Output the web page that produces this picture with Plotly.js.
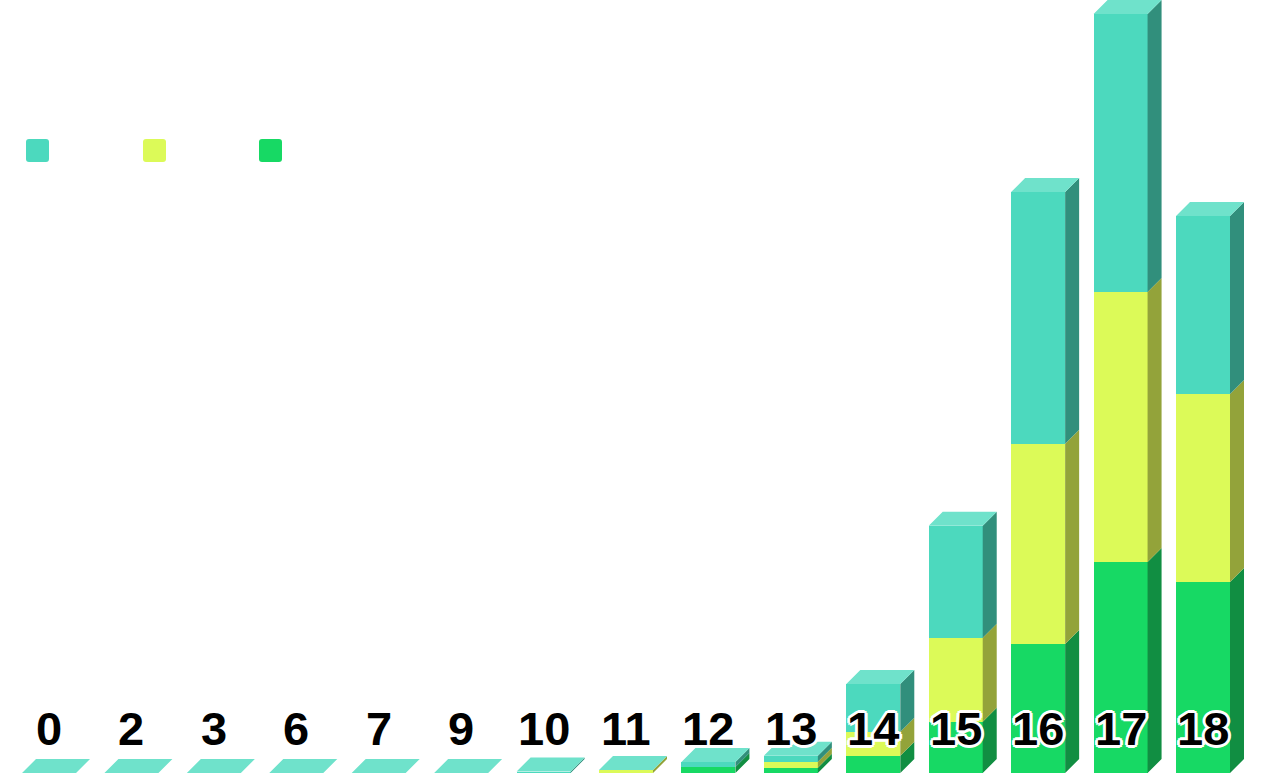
<!DOCTYPE html>
<html>
<head>
<meta charset="utf-8">
<script src="https://cdn.plot.ly/plotly-3.0.1.min.js"></script>
<style>html,body{margin:0;padding:0;background:#fff;}#chart{width:1264px;height:782px;}</style>
</head>
<body>
<div id="chart"></div>
<script>
// ---- data ----
const categories = ['0','2','3','6','7','9','10','11','12','13','14','15','16','17','18'];
const greenValues  = [0,0,0,0,0,0,0,0,6,5.3,17.3,51.3,129,211,191];
const yellowValues = [0,0,0,0,0,0,0,3,0,6,24,84,200.3,270,188];
const tealValues   = [0,0,0,0,0,0,1.5,0,5,6,47.7,112,251.7,278,178];

// ---- styling ----
const W = 1264, H = 782;
const margin = {l:0, r:0, t:0, b:9};
const plotW = W - margin.l - margin.r, plotH = H - margin.t - margin.b;
const xRange = [-0.5944, 14.740];
const yRange = [0, 773];
const pxPerX = plotW / (xRange[1] - xRange[0]);
const pxPerY = plotH / (yRange[1] - yRange[0]);
const depthPx = 14;
const dx = depthPx / pxPerX, dy = depthPx / pxPerY;
const barW = 54 / pxPerX;

const series = [
  {name:'green',  values: greenValues,  front:'#17D964', side:'#118E42'},
  {name:'yellow', values: yellowValues, front:'#DCFA58', side:'#93A33A'},
  {name:'teal',   values: tealValues,   front:'#4CD9BE', side:'#318F7C'}
];
const topColor = '#6FE2CB';

const xs = categories.map((c, i) => i);
const traces = [];
const base = xs.map(() => 0);

series.forEach(s => {
  traces.push({
    type:'bar', x: xs, y: s.values, width: barW,
    marker:{color: s.front, line:{width:0}},
    hoverinfo:'skip', showlegend:false
  });
  // side faces
  const sx = [], sy = [];
  xs.forEach((x, i) => {
    const y0 = base[i], y1 = base[i] + s.values[i];
    if (s.values[i] > 0) {
      const x1 = x + barW/2;
      sx.push(x1, x1 + dx, x1 + dx, x1, x1, null);
      sy.push(y0, y0 + dy, y1 + dy, y1, y0, null);
    }
    base[i] = y1;
  });
  traces.push({
    type:'scatter', x: sx, y: sy, mode:'lines', line:{width:0},
    fill:'toself', fillcolor: s.side, hoverinfo:'skip', showlegend:false
  });
});

// top faces of each full stack
const tx = [], ty = [];
xs.forEach((x, i) => {
  const yt = base[i];
  const x0 = x - barW/2, x1 = x + barW/2;
  tx.push(x0, x0 + dx, x1 + dx, x1, x0, null);
  ty.push(yt, yt + dy, yt + dy, yt, yt, null);
});
traces.push({
  type:'scatter', x: tx, y: ty, mode:'lines', line:{width:0},
  fill:'toself', fillcolor: topColor, hoverinfo:'skip', showlegend:false
});

// category labels
const outline = [];
for (const [a,b] of [[3,0],[-3,0],[0,3],[0,-3],[2,2],[-2,-2],[2,-2],[-2,2]]) outline.push(a+'px '+b+'px 0 #fff');
const annotations = categories.map((c, i) => ({
  x: i, y: 0, xref:'x', yref:'y', text: c, showarrow:false,
  xanchor:'center', yanchor:'bottom', yshift: 16,
  font:{family:'Liberation Sans, Arial, sans-serif', size:47, color:'#000', weight:700, shadow: outline.join(', ')}
}));

// legend swatches (no text), in order teal, yellow, green
const legendOrder = [2, 1, 0];
const legendX = [26, 143, 259];
function roundedSquare(xpx, ypx, size, r) {
  const X = v => (v / plotW).toFixed(5);
  const Y = v => ((plotH - v) / plotH).toFixed(5);
  const x0 = xpx, x1 = xpx + size, y0 = ypx, y1 = ypx + size;
  return 'M' + X(x0 + r) + ',' + Y(y0) +
    ' L' + X(x1 - r) + ',' + Y(y0) + ' Q' + X(x1) + ',' + Y(y0) + ' ' + X(x1) + ',' + Y(y0 + r) +
    ' L' + X(x1) + ',' + Y(y1 - r) + ' Q' + X(x1) + ',' + Y(y1) + ' ' + X(x1 - r) + ',' + Y(y1) +
    ' L' + X(x0 + r) + ',' + Y(y1) + ' Q' + X(x0) + ',' + Y(y1) + ' ' + X(x0) + ',' + Y(y1 - r) +
    ' L' + X(x0) + ',' + Y(y0 + r) + ' Q' + X(x0) + ',' + Y(y0) + ' ' + X(x0 + r) + ',' + Y(y0) + ' Z';
}
const shapes = legendOrder.map((k, j) => ({
  type:'path', xref:'paper', yref:'paper',
  path: roundedSquare(legendX[j], 139, 23, 3),
  fillcolor: series[k].front, line:{width:0}, layer:'above'
}));

const layout = {
  width: W, height: H, margin: margin,
  paper_bgcolor:'#fff', plot_bgcolor:'#fff',
  barmode:'stack', bargap:0,
  showlegend:false,
  xaxis:{range:xRange, visible:false, fixedrange:true},
  yaxis:{range:yRange, visible:false, fixedrange:true},
  annotations: annotations,
  shapes: shapes
};

Plotly.newPlot('chart', traces, layout, {displayModeBar:false, staticPlot:true});
</script>
</body>
</html>
